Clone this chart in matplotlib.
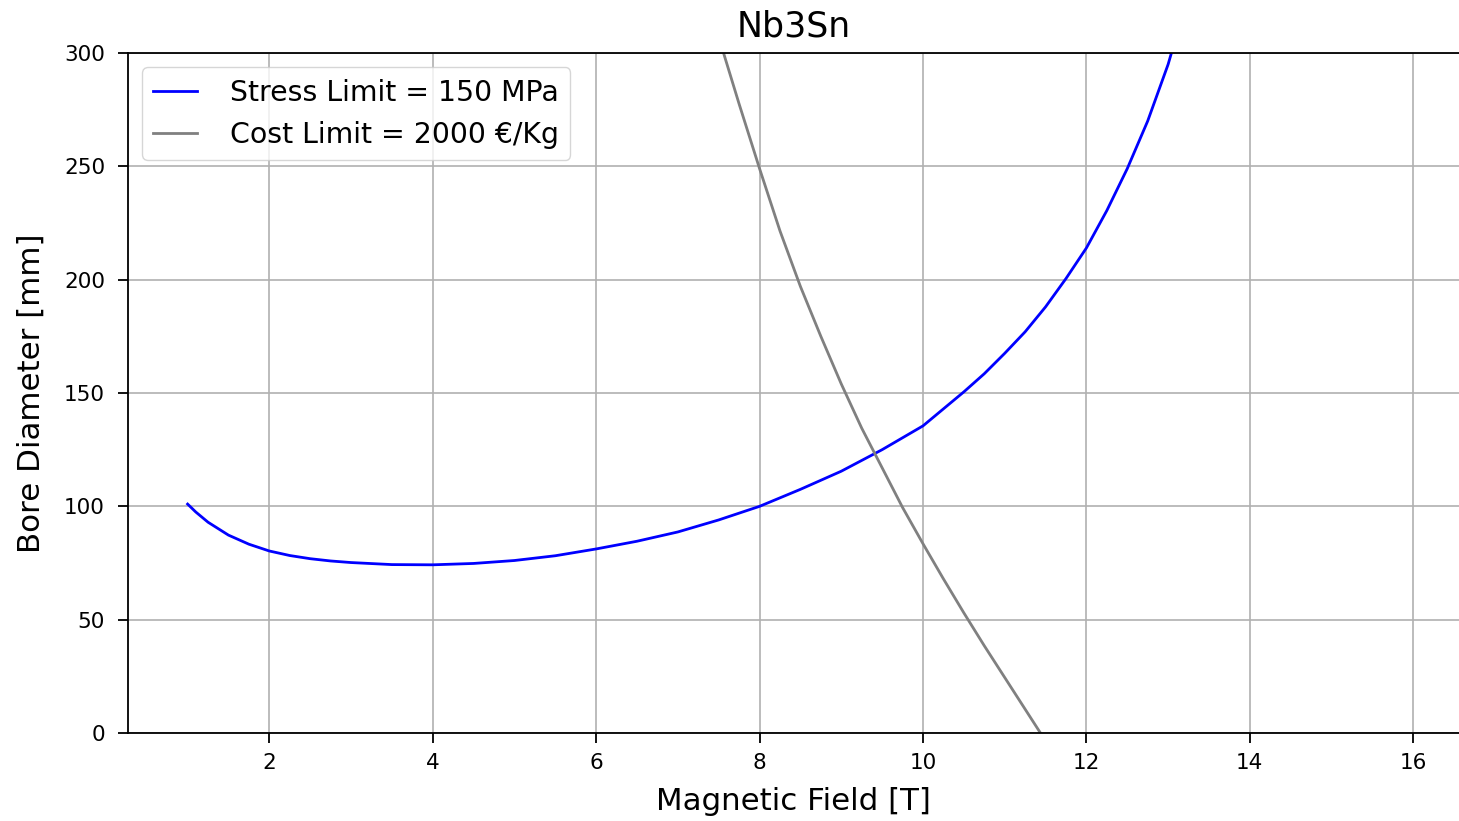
import numpy as np
import matplotlib.pyplot as plt

# stress limit curve
field_stress = [1.0, 1.1, 1.25, 1.5, 1.75, 2.0, 2.25, 2.5, 2.75, 3.0, 3.5, 4.0, 4.5, 5.0, 5.5,
                6.0, 6.5, 7.0, 7.5, 8.0, 8.5, 9.0, 9.5, 10.0, 10.25, 10.5, 10.75, 11.0,
                11.25, 11.5, 11.75, 12.0, 12.25, 12.5, 12.75, 13.0, 13.25]
bore_stress = [101, 97.5, 93, 87.3, 83.3, 80.3, 78.3, 76.9, 75.9, 75.2, 74.3, 74.2, 74.8, 76.1, 78.2,
               81.2, 84.6, 88.7, 94, 100, 107.5, 115.5, 125, 135.5, 143, 150.5, 158.5, 167.5,
               177, 188, 200.5, 214, 230.5, 249, 270, 295, 326]

# cost limit curve
field_cost = [7.0, 7.5, 7.75, 8.0, 8.25, 8.5, 8.75, 9.0, 9.25, 9.5, 9.75, 10.0, 10.25,
              10.5, 10.75, 11.0, 11.25, 11.5, 12.0]
bore_cost = [372, 307, 277.5, 249, 221.5, 197, 175, 154, 134.5, 117, 99.5, 83.5, 68,
             53, 38.5, 24.5, 10.5, -3.5, -30]

plt.rcParams['axes.linewidth'] = 1.3
plt.rcParams['xtick.major.width'] = 1.3
plt.rcParams['ytick.major.width'] = 1.3
plt.rcParams['xtick.major.size'] = 7
plt.rcParams['ytick.major.size'] = 7
plt.rcParams['xtick.major.pad'] = 7.5
plt.rcParams['ytick.major.pad'] = 9.5

fig = plt.figure(figsize=(14.59, 8.21), dpi=100)
ax = fig.add_axes([0.0877, 0.1072, 0.9123, 0.8282])

ax.plot(field_stress, bore_stress, color='blue', lw=2, label='Stress Limit = 150 MPa')
ax.plot(field_cost, bore_cost, color='gray', lw=2, label='Cost Limit = 2000 €/Kg')

ax.set_xlim(0.27, 16.56)
ax.set_ylim(0, 300)
ax.set_xticks(np.arange(2, 17, 2))
ax.set_yticks(np.arange(0, 301, 50))
ax.tick_params(labelsize=15.5)
ax.grid(True, color='#b0b0b0', lw=1.2)
ax.spines['right'].set_visible(False)

ax.set_title('Nb3Sn', fontsize=25, pad=12)
ax.set_xlabel('Magnetic Field [T]', fontsize=22.2, labelpad=10)
ax.set_ylabel('Bore Diameter [mm]', fontsize=22.2, labelpad=13)
ax.legend(loc='upper left', fontsize=20.4, handlelength=1.55, handletextpad=1.15,
          borderpad=0.4)

fig.savefig('out.png', dpi=100)
